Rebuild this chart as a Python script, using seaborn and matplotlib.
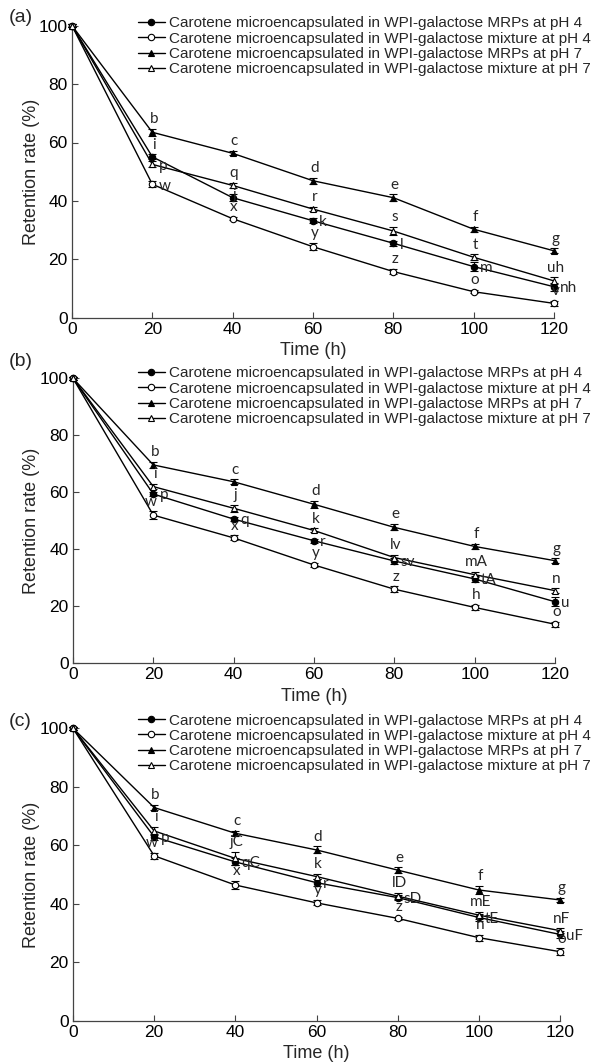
import matplotlib
matplotlib.use("Agg")
import matplotlib.pyplot as plt
import seaborn as sns
import pandas as pd

sns.set_theme(style="ticks")
plt.rcParams["font.family"] = ["Liberation Sans", "DejaVu Sans"]

time_h = [0, 20, 40, 60, 80, 100, 120]
series_names = [
    "Carotene microencapsulated in WPI-galactose MRPs at pH 4",
    "Carotene microencapsulated in WPI-galactose mixture at pH 4",
    "Carotene microencapsulated in WPI-galactose MRPs at pH 7",
    "Carotene microencapsulated in WPI-galactose mixture at pH 7",
]

# Retention rate (%) per panel, one list per series (order as series_names)
a_mrp_ph4 = [100, 55.1, 41.1, 33.2, 25.5, 17.5, 10.6]
a_mix_ph4 = [100, 45.7, 33.9, 24.3, 15.8, 8.9, 4.9]
a_mrp_ph7 = [100, 63.5, 56.3, 46.9, 41.1, 30.3, 22.9]
a_mix_ph7 = [100, 52.5, 45.3, 37.2, 29.7, 20.7, 12.6]

b_mrp_ph4 = [100, 59.4, 50.6, 43.0, 35.9, 29.6, 21.6]
b_mix_ph4 = [100, 52.0, 44.0, 34.5, 26.0, 19.6, 13.7]
b_mrp_ph7 = [100, 69.6, 63.7, 55.8, 47.7, 41.0, 36.0]
b_mix_ph7 = [100, 62.0, 54.4, 46.6, 37.1, 31.1, 25.5]

c_mrp_ph4 = [100, 62.9, 54.3, 47.2, 42.1, 35.3, 29.5]
c_mix_ph4 = [100, 56.4, 46.4, 40.3, 35.0, 28.4, 23.6]
c_mrp_ph7 = [100, 72.9, 64.1, 58.4, 51.5, 44.7, 41.3]
c_mix_ph7 = [100, 64.9, 55.5, 49.3, 42.6, 36.1, 30.8]

# Standard deviations
a_err = [[0.6, 0.8, 1.2, 0.9, 0.9, 1.5, 1.3],
         [0.6, 1.0, 0.6, 1.2, 1.0, 0.6, 0.8],
         [0.6, 1.2, 0.7, 1.0, 1.1, 0.8, 0.8],
         [0.6, 1.0, 0.9, 0.8, 1.4, 1.0, 1.2]]
b_err = [[0.6, 0.6, 0.8, 0.7, 1.2, 1.0, 1.6],
         [0.6, 1.3, 0.9, 0.8, 1.0, 1.0, 0.9],
         [0.6, 1.2, 0.8, 1.3, 1.1, 0.9, 0.8],
         [0.6, 1.0, 1.3, 0.7, 1.0, 0.9, 0.8]]
c_err = [[0.6, 1.0, 1.2, 1.2, 0.9, 1.2, 1.2],
         [0.6, 1.0, 1.4, 0.9, 0.6, 1.0, 1.1],
         [0.6, 1.0, 0.8, 1.2, 0.9, 1.3, 0.8],
         [0.6, 1.3, 2.2, 1.0, 1.0, 1.2, 0.8]]

# Significance letters per point (order as series_names)
a_letters = [["", "i", "j", "k", "l", "m", "nh"],
             ["", "w", "x", "y", "z", "o", "v"],
             ["a", "b", "c", "d", "e", "f", "g"],
             ["", "p", "q", "r", "s", "t", "uh"]]
b_letters = [["", "p", "q", "r", "sv", "tA", "u"],
             ["", "w", "x", "y", "z", "h", "o"],
             ["a", "b", "c", "d", "e", "f", "g"],
             ["", "i", "j", "k", "lv", "mA", "n"]]
c_letters = [["", "p", "qC", "r", "sD", "tE", "uF"],
             ["", "w", "x", "y", "z", "h", "o"],
             ["a", "b", "c", "d", "e", "f", "g"],
             ["", "i", "jC", "k", "lD", "mE", "nF"]]

# Letter placement: U = above the point, R = right of the point, C = on the point
a_place = [["U", "U", "C", "R", "R", "R", "R"],
           ["U", "R", "U", "U", "U", "U", "U"],
           ["U", "U", "U", "U", "U", "U", "U"],
           ["U", "R", "U", "U", "U", "U", "U"]]
b_place = [["U", "R", "R", "R", "R", "R", "R"],
           ["U", "U", "U", "U", "U", "U", "U"],
           ["U", "U", "U", "U", "U", "U", "U"],
           ["U", "U", "U", "U", "U", "U", "U"]]
c_place = b_place

W, H = 600, 1062


def px_rect(x0, x1, ytop, ybot):
    return [x0 / W, 1 - ybot / H, (x1 - x0) / W, (ybot - ytop) / H]


# (tag, tag y-centre px, values, errors, letters, placement, axes rect, legend top px)
panels = [
    ("(a)", 18, [a_mrp_ph4, a_mix_ph4, a_mrp_ph7, a_mix_ph7], a_err, a_letters, a_place,
     px_rect(72, 554, 25.7, 317.7), 16.5),
    ("(b)", 362, [b_mrp_ph4, b_mix_ph4, b_mrp_ph7, b_mix_ph7], b_err, b_letters, b_place,
     px_rect(73, 555, 378.3, 663.3), 366.5),
    ("(c)", 721, [c_mrp_ph4, c_mix_ph4, c_mrp_ph7, c_mix_ph7], c_err, c_letters, c_place,
     px_rect(73, 560, 728.3, 1020.7), 713.5),
]

marker_styles = [
    dict(marker="o", markerfacecolor="black"),
    dict(marker="o", markerfacecolor="white"),
    dict(marker="^", markerfacecolor="black"),
    dict(marker="^", markerfacecolor="white"),
]

fig = plt.figure(figsize=(W / 100, H / 100), dpi=100)
spine_col = "#444444"
letter_kw = dict(textcoords="offset points", fontsize=11, family="Lato")

for tag, tag_y, values, errs, letters, places, rect, leg_top in panels:
    ax = fig.add_axes(rect)
    for name, yv, ev, mstyle in zip(series_names, values, errs, marker_styles):
        df = pd.DataFrame({"Time (h)": time_h, "Retention rate (%)": yv})
        sns.lineplot(data=df, x="Time (h)", y="Retention rate (%)", ax=ax,
                     color="black", linewidth=1.0, markersize=4.6,
                     markeredgecolor="black", markeredgewidth=0.8,
                     label=name, clip_on=False, zorder=3, **mstyle)
        ax.errorbar(time_h, yv, yerr=ev, fmt="none", ecolor="black",
                    elinewidth=0.8, capsize=2.6, capthick=0.8, clip_on=False, zorder=2)
    for yv, ev, labs, pl in zip(values, errs, letters, places):
        for x, y, e, lab, p in zip(time_h, yv, ev, labs, pl):
            if not lab:
                continue
            if p == "U":
                dx = -1.5 if lab == "w" else 1
                ax.annotate(lab, (x, y + e), xytext=(dx, 2), ha="center", va="bottom",
                            **letter_kw)
            elif p == "C":
                ax.annotate(lab, (x, y), xytext=(1.5, 2), ha="center", va="center",
                            **letter_kw)
            else:
                ax.annotate(lab, (x, y), xytext=(4.5, -1), ha="left", va="center",
                            **letter_kw)

    ax.set_xlim(0, 120)
    ax.set_ylim(0, 100)
    ax.set_xticks(time_h)
    ax.set_yticks([0, 20, 40, 60, 80, 100])
    ax.tick_params(direction="in", length=4, width=0.8, colors=spine_col,
                   labelcolor="black", labelsize=12.5, pad=3)
    for s in ["top", "right"]:
        ax.spines[s].set_visible(False)
    for s in ["left", "bottom"]:
        ax.spines[s].set_color(spine_col)
        ax.spines[s].set_linewidth(0.9)
    ax.set_xlabel("Time (h)", fontsize=13, labelpad=4)
    ax.set_ylabel("Retention rate (%)", fontsize=13)
    ax_left_px = rect[0] * W
    ax.yaxis.set_label_coords(-(ax_left_px - 40) / (rect[2] * W), 0.5)
    ax.legend(loc="upper left", bbox_to_anchor=(138 / W, 1 - leg_top / H),
              bbox_transform=fig.transFigure, frameon=False,
              borderaxespad=0, borderpad=0, handlelength=1.75, handletextpad=0.25,
              labelspacing=0.08, fontsize=11)
    fig.text(9 / W, 1 - tag_y / H, tag, fontsize=14, ha="left", va="center")

fig.savefig("out.png", dpi=100)
